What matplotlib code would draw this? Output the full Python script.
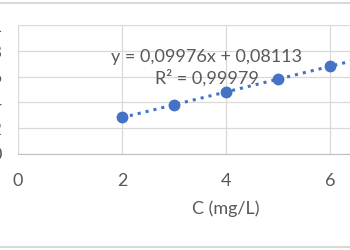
import numpy as np
import matplotlib.pyplot as plt
from matplotlib.lines import Line2D
from matplotlib.ticker import FuncFormatter

# data
conc = [2, 3, 4, 5, 6, 7]
absorb = [0.283, 0.383, 0.477, 0.580, 0.681, 0.779]
x_ticks = [0, 2, 4, 6, 8]
y_ticks = [0, 0.2, 0.4, 0.6, 0.8, 1.0]
eq_text = "y = 0,09976x + 0,08113"
r2_text = "R² = 0,99979"
x_label = "C (mg/L)"

BLUE = "#4472C4"
GRID = "#D9D9D9"
TXT = "#595959"
FS = 13

plt.rcParams["font.family"] = ["Lato", "DejaVu Sans"]

fig = plt.figure(figsize=(3.5, 2.5), dpi=100)
# the chart is cropped on the left and right, so the axes run past the canvas
ax = fig.add_axes([18 / 350, 96 / 250, 416 / 350, 129 / 250])

ax.plot(conc, absorb, "o", color=BLUE, ms=7.5, zorder=3)
k, b = np.polyfit(conc, absorb, 1)
xs = np.array([conc[0], conc[-1]])
ax.plot(xs, k * xs + b, ls=":", color=BLUE, lw=2.2, zorder=2)

ax.set_xlim(0, 8)
ax.set_ylim(0, 1.0)
ax.set_xticks(x_ticks)
ax.set_yticks(y_ticks)
ax.yaxis.set_major_formatter(FuncFormatter(lambda v, p: f"{v:g}".replace(".", ",")))
ax.grid(True, color=GRID, lw=0.9)
ax.set_axisbelow(True)
for s in ["top", "right", "left"]:
    ax.spines[s].set_visible(False)
ax.spines["bottom"].set_color("#BFBFBF")
ax.tick_params(length=0, labelcolor=TXT, labelsize=FS)
ax.tick_params(axis="x", pad=14)
ax.tick_params(axis="y", pad=11.5)

ax.set_xlabel(x_label, color=TXT, fontsize=FS, labelpad=8)

ax.text(3.63, 0.755, eq_text, color=TXT, fontsize=FS, ha="center", va="center")
ax.text(3.63, 0.59, r2_text, color=TXT, fontsize=FS, ha="center", va="center")

# chart-area border lines at top and bottom of the crop
fig.add_artist(Line2D([0, 1], [1 - 3 / 250, 1 - 3 / 250], color=GRID, lw=1.5))
fig.add_artist(Line2D([0, 1], [3 / 250, 3 / 250], color=GRID, lw=1.5))

fig.savefig("out.png", dpi=100, facecolor="white")
